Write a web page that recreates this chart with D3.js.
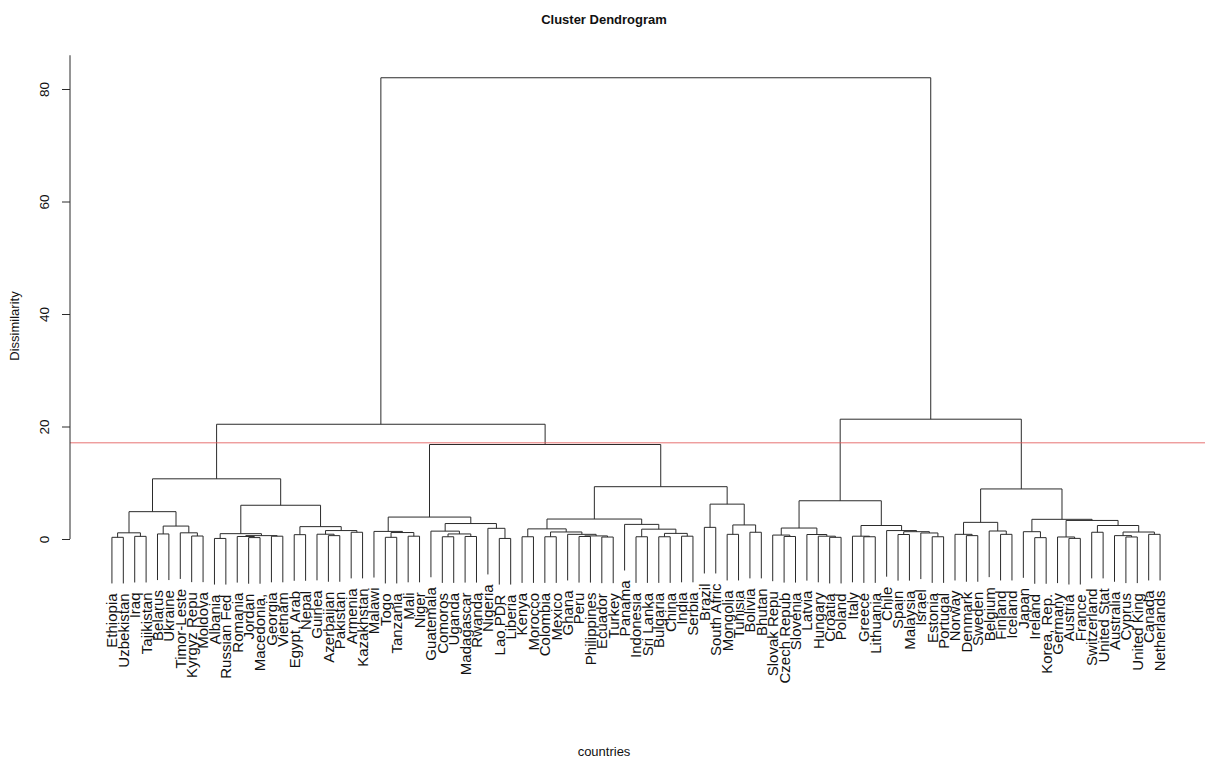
<!DOCTYPE html>
<html>
<head>
<meta charset="utf-8">
<title>Cluster Dendrogram</title>
<script src="https://d3js.org/d3.v7.min.js"></script>
<style>
  body { margin: 0; background: #fff; font-family: "Liberation Sans", Arial, Helvetica, sans-serif; }
  svg text { fill: #111; }
</style>
</head>
<body>
<svg id="chart" width="1208" height="765"></svg>
<script>
// leaves, left to right, as they come out of the clustering
var countries = [
  "Ethiopia", "Uzbekistan", "Iraq", "Tajikistan", "Belarus", "Ukraine", "Timor-Leste",
  "Kyrgyz Repu", "Moldova", "Albania", "Russian Fed", "Romania", "Jordan", "Macedonia,",
  "Georgia", "Vietnam", "Egypt, Arab", "Nepal", "Guinea", "Azerbaijan", "Pakistan",
  "Armenia", "Kazakhstan", "Malawi", "Togo", "Tanzania", "Mali", "Niger", "Guatemala",
  "Comoros", "Uganda", "Madagascar", "Rwanda", "Nigeria", "Lao PDR", "Liberia", "Kenya",
  "Morocco", "Colombia", "Mexico", "Ghana", "Peru", "Philippines", "Ecuador", "Turkey",
  "Panama", "Indonesia", "Sri Lanka", "Bulgaria", "China", "India", "Serbia", "Brazil",
  "South Afric", "Mongolia", "Tunisia", "Bolivia", "Bhutan", "Slovak Repu", "Czech Repub",
  "Slovenia", "Latvia", "Hungary", "Croatia", "Poland", "Italy", "Greece", "Lithuania",
  "Chile", "Spain", "Malaysia", "Israel", "Estonia", "Portugal", "Norway", "Denmark",
  "Sweden", "Belgium", "Finland", "Iceland", "Japan", "Ireland", "Korea, Rep.", "Germany",
  "Austria", "France", "Switzerland", "United Stat", "Australia", "Cyprus", "United King",
  "Canada", "Netherlands"
];

// merge steps [left, right, height]: a string is a leaf, a number is an earlier merge
var merges = [
  ["Ethiopia", "Uzbekistan", 0.3],      // 0
  ["Iraq", "Tajikistan", 0.47],
  [0, 1, 1.1],
  ["Belarus", "Ukraine", 0.9],
  ["Kyrgyz Repu", "Moldova", 0.53],
  ["Timor-Leste", 4, 1.1],              // 5
  [3, 5, 2.3],
  [2, 6, 4.86],
  ["Albania", "Russian Fed", 0.1],
  ["Jordan", "Macedonia,", 0.25],
  ["Romania", 9, 0.45],                 // 10
  ["Georgia", "Vietnam", 0.5],
  [10, 11, 0.6],
  [8, 12, 0.95],
  ["Egypt, Arab", "Nepal", 0.77],
  ["Azerbaijan", "Pakistan", 0.6],      // 15
  ["Guinea", 15, 0.85],
  ["Armenia", "Kazakhstan", 1.2],
  [16, 17, 1.5],
  [14, 18, 2.2],
  [13, 19, 6.0],                        // 20
  [7, 20, 10.7],
  ["Togo", "Tanzania", 0.3],
  ["Mali", "Niger", 0.5],
  [22, 23, 1.15],
  ["Malawi", 24, 1.35],                 // 25
  ["Comoros", "Uganda", 0.4],
  ["Madagascar", "Rwanda", 0.45],
  [26, 27, 0.9],
  ["Guatemala", 28, 1.4],
  ["Lao PDR", "Liberia", 0.1],          // 30
  ["Nigeria", 30, 1.9],
  [29, 31, 2.75],
  [25, 32, 3.9],
  ["Kenya", "Morocco", 0.4],
  ["Colombia", "Mexico", 0.4],          // 35
  ["Peru", "Philippines", 0.45],
  ["Ecuador", "Turkey", 0.35],
  [36, 37, 0.55],
  ["Ghana", 38, 0.83],
  [35, 39, 1.25],                       // 40
  [34, 40, 1.8],
  ["Indonesia", "Sri Lanka", 0.4],
  ["Bulgaria", "China", 0.4],
  ["India", "Serbia", 0.5],
  [43, 44, 1.0],                        // 45
  [42, 45, 1.75],
  ["Panama", 46, 2.6],
  [41, 47, 3.55],
  ["Brazil", "South Afric", 2.07],
  ["Mongolia", "Tunisia", 0.83],        // 50
  ["Bolivia", "Bhutan", 1.2],
  [50, 51, 2.5],
  [49, 52, 6.2],
  [48, 53, 9.3],
  [33, 54, 16.8],                       // 55
  [21, 55, 20.4],
  ["Czech Repub", "Slovenia", 0.45],
  ["Slovak Repu", 57, 0.7],
  ["Croatia", "Poland", 0.3],
  ["Hungary", 59, 0.5],                 // 60
  ["Latvia", 60, 0.8],
  [58, 61, 1.95],
  ["Greece", "Lithuania", 0.4],
  ["Italy", 63, 0.5],
  ["Spain", "Malaysia", 0.8],           // 65
  ["Estonia", "Portugal", 0.4],
  ["Israel", 66, 1.07],
  [65, 67, 1.3],
  ["Chile", 68, 1.5],
  [64, 69, 2.4],                        // 70
  [62, 70, 6.8],
  ["Denmark", "Sweden", 0.6],
  ["Norway", 72, 0.83],
  ["Finland", "Iceland", 0.83],
  ["Belgium", 74, 1.42],                // 75
  [73, 75, 2.96],
  ["Ireland", "Korea, Rep.", 0.24],
  ["Japan", 77, 1.3],
  ["Austria", "France", 0.11],
  ["Germany", 79, 0.36],                // 80
  ["Switzerland", "United Stat", 1.2],
  ["Cyprus", "United King", 0.36],
  ["Australia", 82, 0.6],
  ["Canada", "Netherlands", 0.83],
  [83, 84, 1.24],                       // 85
  [81, 85, 2.4],
  [80, 86, 3.3],
  [78, 87, 3.5],
  [76, 88, 8.9],
  [71, 89, 21.3],                       // 90
  [56, 90, 82.0]
];

var yTicks = [0, 20, 40, 60, 80];
var cutHeight = 17.1;   // the red cut line
var hang = 0.1;         // leaves hang this fraction of the tallest merge below their parent

var svg = d3.select("#chart");
var n = countries.length;

// same margins R uses: 4% padding either side of the leaves
var x = d3.scaleLinear()
  .domain([1 - 0.04 * (n - 1), n + 0.04 * (n - 1)])
  .range([70, 1202]);
var y = d3.scaleLinear().domain([0, 80]).range([539, 89]);

var leafIndex = {};
countries.forEach(function(c, i) { leafIndex[c] = i + 1; });

var drop = hang * d3.max(merges, function(m) { return m[2]; });
var leafBottom = {};
var nodes = [];

function child(ref, parentH) {
  if (typeof ref === "string") {
    leafBottom[ref] = parentH - drop;
    return { pos: leafIndex[ref], h: parentH - drop };
  }
  return nodes[ref];
}

merges.forEach(function(m) {
  var a = child(m[0], m[2]), b = child(m[1], m[2]);
  nodes.push({ pos: (a.pos + b.pos) / 2, h: m[2], a: a, b: b });
});

// tree
svg.append("g")
  .attr("fill", "none")
  .attr("stroke", "#2b2b2b")
  .attr("stroke-width", 1)
  .selectAll("path")
  .data(nodes)
  .join("path")
    .attr("d", function(d) {
      return "M" + x(d.a.pos) + "," + y(d.a.h) +
             "V" + y(d.h) +
             "H" + x(d.b.pos) +
             "V" + y(d.b.h);
    });

// cut line
svg.append("line")
  .attr("x1", x.range()[0]).attr("x2", 1205)
  .attr("y1", y(cutHeight)).attr("y2", y(cutHeight))
  .attr("stroke", "#e35b5b")
  .attr("stroke-width", 1)
  .attr("stroke-opacity", 0.85);

// leaf labels, rotated, hanging under each leaf
svg.append("g")
  .selectAll("text")
  .data(countries)
  .join("text")
    .attr("transform", function(d) {
      return "translate(" + x(leafIndex[d]) + "," + (y(leafBottom[d]) + 10) + ") rotate(-90)";
    })
    .attr("dy", "0.36em")
    .attr("text-anchor", "end")
    .style("font-size", "15px")
    .text(function(d) { return d; });

// y axis
var axis = svg.append("g")
  .attr("transform", "translate(70,0)")
  .call(d3.axisLeft(y).tickValues(yTicks).tickSize(8).tickSizeOuter(0));
axis.select(".domain").remove();
axis.append("line")
  .attr("x1", 0).attr("x2", 0)
  .attr("y1", y(0)).attr("y2", y(86))
  .attr("stroke", "#2b2b2b");
axis.selectAll(".tick line").attr("stroke", "#2b2b2b");
axis.selectAll(".tick text")
  .attr("x", null).attr("dy", null)
  .attr("text-anchor", "middle")
  .attr("transform", "translate(-21,0) rotate(-90)")
  .style("font-size", "13.5px")
  .style("font-family", "'Liberation Sans', Arial, sans-serif")
  .attr("fill", "#111");

// titles
svg.append("text")
  .attr("x", 604).attr("y", 24)
  .attr("text-anchor", "middle")
  .style("font-size", "13px")
  .style("font-weight", "bold")
  .text("Cluster Dendrogram");

svg.append("text")
  .attr("x", 604).attr("y", 756)
  .attr("text-anchor", "middle")
  .style("font-size", "13px")
  .text("countries");

svg.append("text")
  .attr("transform", "translate(19,326) rotate(-90)")
  .attr("text-anchor", "middle")
  .style("font-size", "13px")
  .text("Dissimilarity");
</script>
</body>
</html>
